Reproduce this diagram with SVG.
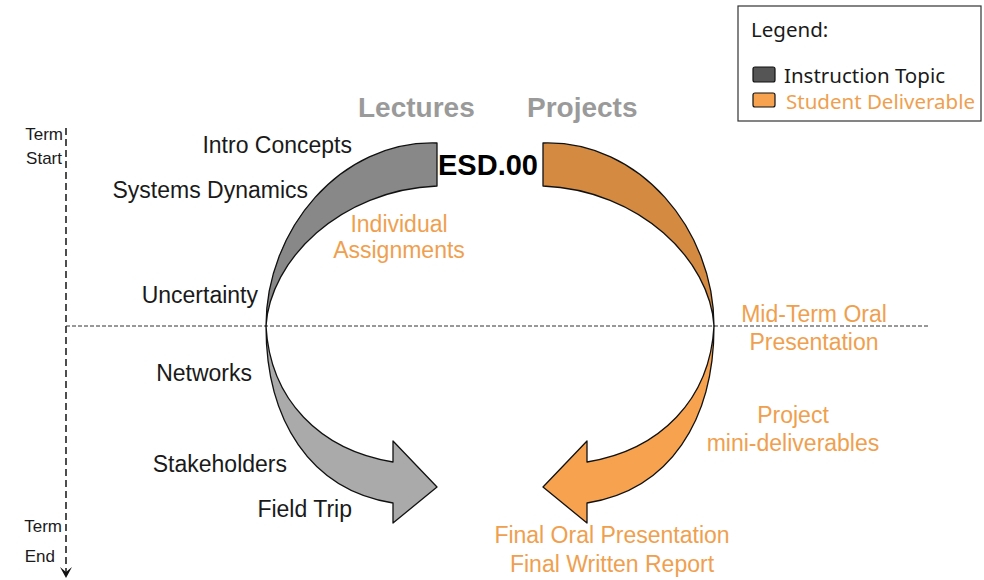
<svg xmlns="http://www.w3.org/2000/svg" width="984" height="580" viewBox="0 0 984 580">
<defs>
<style>
.t{font-family:"Liberation Sans",Arial,sans-serif;font-size:23px;fill:#1a1a1a}
.o{font-family:"Liberation Sans",Arial,sans-serif;font-size:23px;fill:#EFA04F}
.h{font-family:"Liberation Sans",Arial,sans-serif;font-size:28px;font-weight:bold;fill:#9a9a9a}
.s{font-family:"Liberation Sans",Arial,sans-serif;font-size:17px;fill:#1a1a1a}
.lg{font-family:"Noto Sans","DejaVu Sans",sans-serif;font-size:20.5px;fill:#1a1a1a}
.shape{stroke:#111;stroke-width:1.3;stroke-linejoin:round}
</style>
</defs>
<rect width="984" height="580" fill="#fff"/>
<g id="axes">
<line x1="66" y1="326" x2="930" y2="326" stroke="#333" stroke-width="1" stroke-dasharray="4,2"/>
<line x1="66" y1="128" x2="66" y2="572" stroke="#222" stroke-width="1.6" stroke-dasharray="7,4"/>
<path d="M60,567 L66,578 L72,567 L66,572 Z" fill="#111"/>
<text class="s" x="63" y="140" text-anchor="end">Term</text>
<text class="s" x="62" y="164" text-anchor="end">Start</text>
<text class="s" x="62" y="532" text-anchor="end">Term</text>
<text class="s" x="55" y="562" text-anchor="end">End</text>
</g>
<g id="connectors">
<path id="lectures-top" class="shape" fill="#888888" d="M437,143 C340,140 266,230 266,326 C270,260 340,190 437,186 Z"/>
<path id="lectures-bottom" class="shape" fill="#aaaaaa" d="M266,326 C266,420 310,490 393,503 L393,523 L437,487 L393,441 L393,462 C320,450 270,400 266,326 Z"/>
<path id="projects-top" class="shape" fill="#D48A40" d="M543,143 C640,140 714,230 714,326 C710,260 640,190 543,186 Z"/>
<path id="projects-bottom" class="shape" fill="#F6A24E" d="M714,326 C714,420 670,490 587,503 L587,523 L543,487 L587,441 L587,462 C660,450 710,400 714,326 Z"/>
</g>
<g id="titles">
<text class="h" x="358" y="117">Lectures</text>
<text class="h" x="527" y="117">Projects</text>
<text x="438" y="175" font-family="'Liberation Sans',Arial,sans-serif" font-size="29" font-weight="bold" fill="#000">ESD.00</text>
</g>
<g id="lecture-topics">
<text class="t" x="352" y="153" text-anchor="end">Intro Concepts</text>
<text class="t" x="308" y="198" text-anchor="end">Systems Dynamics</text>
<text class="t" x="258" y="303" text-anchor="end">Uncertainty</text>
<text class="t" x="252" y="381" text-anchor="end">Networks</text>
<text class="t" x="287" y="472" text-anchor="end">Stakeholders</text>
<text class="t" x="352" y="517" text-anchor="end">Field Trip</text>
</g>
<g id="deliverables">
<text class="o" x="399" y="232" text-anchor="middle">Individual</text>
<text class="o" x="399" y="258" text-anchor="middle">Assignments</text>
<text class="o" x="814" y="322" text-anchor="middle">Mid-Term Oral</text>
<text class="o" x="814" y="350" text-anchor="middle">Presentation</text>
<text class="o" x="793" y="423" text-anchor="middle">Project</text>
<text class="o" x="793" y="451" text-anchor="middle">mini-deliverables</text>
<text class="o" x="612" y="543" text-anchor="middle">Final Oral Presentation</text>
<text class="o" x="612" y="572" text-anchor="middle">Final Written Report</text>
</g>
<g id="legend">
<rect x="738" y="6" width="243" height="115" fill="#fff" stroke="#333" stroke-width="1.2"/>
<text class="lg" x="751" y="37">Legend:</text>
<rect x="753" y="67" width="22" height="15" rx="2" fill="#555" stroke="#111" stroke-width="1.2"/>
<text class="lg" x="784" y="83">Instruction Topic</text>
<rect x="753" y="93" width="22" height="14" rx="2" fill="#F6A24E" stroke="#111" stroke-width="1.2"/>
<text class="lg" x="786" y="109" style="fill:#EFA04F">Student Deliverable</text>
</g>
</svg>
